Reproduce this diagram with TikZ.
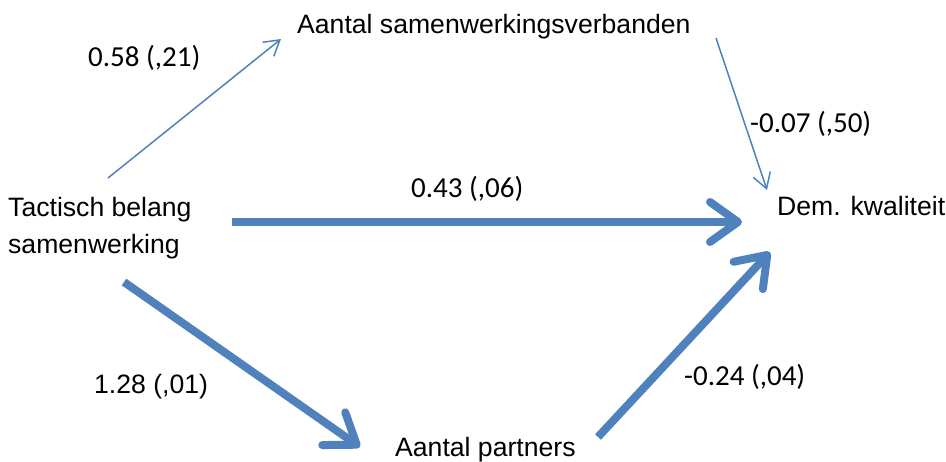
\documentclass[tikz,border=0pt]{standalone}
\usepackage{fontspec}
\setmainfont{Liberation Sans}
\newfontfamily\coeffont{Carlito}
\usetikzlibrary{arrows.meta}
\definecolor{pathblue}{HTML}{4F81BD}

\begin{document}
\begin{tikzpicture}[x=1pt,y=-1pt,
    var/.style={inner sep=0pt,font=\fontsize{26.6}{37}\selectfont},
    coef/.style={inner sep=0pt,anchor=base west,font=\coeffont\fontsize{29}{34}\selectfont},
    thin path/.style={draw=pathblue,line width=1.5pt,-{Straight Barb[length=15pt,width=18pt]}},
    thick path/.style={draw=pathblue,line width=8pt,-{Straight Barb[length=28pt,width=40pt,line cap=round,line join=round]}}]

    \useasboundingbox (0,0) rectangle (946,461);

    \node[var, anchor=north west, align=left] (tactisch) at (8,197) {Tactisch belang\\samenwerking};
    \node[var, anchor=base west] (verband) at (297,33) {Aantal samenwerkingsverbanden};
    \node[var, anchor=base west] (partners) at (395,456) {Aantal partners};
    \node[var, anchor=base west] (kwaliteit) at (777,215) {Dem. kwaliteit};

    \node[coef] (c1) at (88,66) {0.58 (,21)};
    \node[coef] (c2) at (750,132) {-0.07 (,50)};
    \node[coef] (c3) at (411,197) {0.43 (,06)};
    \node[var, anchor=base west] (c4) at (94,393) {1.28 (,01)};
    \node[coef] (c5) at (684,385) {-0.24 (,04)};

    \path
        ([shift={(100pt,19pt)}]tactisch.north west) edge[thin path] ([shift={(-16pt,-6pt)}]verband.base west)
        ([shift={(419pt,-5pt)}]verband.base west) edge[thin path] ([shift={(-10pt,25pt)}]kwaliteit.base west)
        ([shift={(224pt,-25pt)}]tactisch.north west) edge[thick path] ([shift={(-35pt,-7pt)}]kwaliteit.base west)
        ([shift={(116pt,-85pt)}]tactisch.north west) edge[thick path] ([shift={(-35pt,9pt)}]partners.base west)
        ([shift={(203pt,19pt)}]partners.base west) edge[thick path] ([shift={(-7pt,-37pt)}]kwaliteit.base west)
        ;
\end{tikzpicture}
\end{document}
